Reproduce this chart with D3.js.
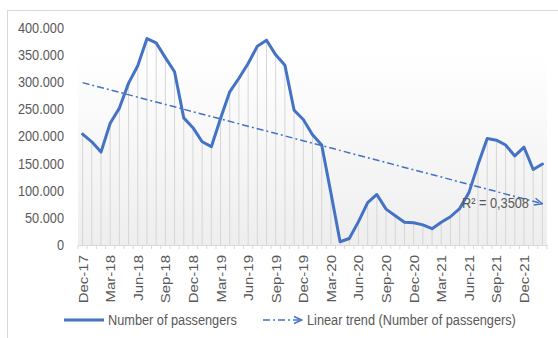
<!DOCTYPE html>
<html><head><meta charset="utf-8">
<script src="https://cdn.jsdelivr.net/npm/d3@7"></script>
<style>
html,body{margin:0;padding:0;background:#fff;}
svg{display:block;font-family:"Liberation Sans",Arial,sans-serif;}
</style></head>
<body>
<svg id="chart" width="558" height="338"></svg>
<script>
const months = ["Dec-17","Jan-18","Feb-18","Mar-18","Apr-18","May-18","Jun-18","Jul-18","Aug-18","Sep-18","Oct-18","Nov-18",
"Dec-18","Jan-19","Feb-19","Mar-19","Apr-19","May-19","Jun-19","Jul-19","Aug-19","Sep-19","Oct-19","Nov-19",
"Dec-19","Jan-20","Feb-20","Mar-20","Apr-20","May-20","Jun-20","Jul-20","Aug-20","Sep-20","Oct-20","Nov-20",
"Dec-20","Jan-21","Feb-21","Mar-21","Apr-21","May-21","Jun-21","Jul-21","Aug-21","Sep-21","Oct-21","Nov-21",
"Dec-21","Jan-22","Feb-22"];
const passengers = [204000,190000,171000,224000,252000,298000,330000,380000,372000,345000,319000,234000,
216000,190000,181000,233000,282000,307000,334000,366000,377000,350000,331000,248000,
231000,203000,184000,96000,6000,12000,43000,78000,93000,66000,54000,42000,
41000,37000,30000,42000,52000,67000,96000,148000,196000,193000,184000,164000,
180000,139000,149000];
const yTicks = [0,50000,100000,150000,200000,250000,300000,350000,400000];
const seriesName = "Number of passengers";
const trendName = "Linear trend (Number of passengers)";
const r2Label = "R² = 0,3508";

(function(){
const svg = d3.select("#chart");
const W = 558, H = 338;
const pL = 78, pR = 547, pT = 27.7, pB = 245;
const SX = 0.85, FS = 15, txtCol = "#595959";

svg.append("rect").attr("x",7.5).attr("y",10.5).attr("width",W).attr("height",H)
  .attr("fill","none").attr("stroke","#d9d9d9").attr("stroke-width",1);

const defs = svg.append("defs");
const grad = defs.append("linearGradient").attr("id","pg").attr("x1",0).attr("y1",0).attr("x2",0).attr("y2",1);
grad.append("stop").attr("offset","0%").attr("stop-color","#ffffff");
grad.append("stop").attr("offset","100%").attr("stop-color","#eeeeee");
const mk = defs.append("marker").attr("id","arr").attr("viewBox","0 0 10 10").attr("refX",9).attr("refY",5)
  .attr("markerWidth",10).attr("markerHeight",10).attr("orient","auto").attr("markerUnits","userSpaceOnUse");
mk.append("path").attr("d","M1,1.5 L9,5 L1,8.5").attr("fill","none").attr("stroke","#4472C4").attr("stroke-width",1.4);

const x = d3.scaleBand().domain(months).range([pL,pR]).paddingInner(0).paddingOuter(0);
const cx = d => x(d) + x.bandwidth()/2;
const y = d3.scaleLinear().domain([0,400000]).range([pB,pT]);

svg.append("rect").attr("x",pL).attr("y",53).attr("width",pR-pL).attr("height",pB-53).attr("fill","url(#pg)");

const data = months.map((m,i)=>({m, v:passengers[i], i}));

svg.append("g").selectAll("line").data(data).join("line")
  .attr("x1",d=>cx(d.m)).attr("x2",d=>cx(d.m)).attr("y1",d=>y(d.v)).attr("y2",pB)
  .attr("stroke","#d6d6d6").attr("stroke-width",1);

const xa = svg.append("g").attr("transform",`translate(0,${pB})`)
  .call(d3.axisBottom(x).tickSize(0).tickFormat(""));
xa.select(".domain").attr("stroke","#d9d9d9");
svg.append("g").selectAll("line").data(d3.range(months.length+1)).join("line")
  .attr("x1",i=>pL+i*x.step()).attr("x2",i=>pL+i*x.step()).attr("y1",pB).attr("y2",pB+4)
  .attr("stroke","#d9d9d9");
svg.append("g").selectAll("text").data(data.filter(d=>d.i%3===0)).join("text")
  .attr("transform",d=>`translate(${cx(d.m)+5},${pB+10}) scale(${SX},1) rotate(-90)`)
  .attr("text-anchor","end").attr("font-size",FS).attr("fill",txtCol).text(d=>d.m);

const loc = d3.formatLocale({decimal:",",thousands:".",grouping:[3],currency:["",""]});
const fmt = loc.format(",");
svg.append("g").selectAll("text").data(yTicks).join("text")
  .attr("transform",d=>`translate(64,${y(d)+5}) scale(${SX},1)`)
  .attr("text-anchor","end").attr("font-size",FS).attr("fill",txtCol).text(d=>fmt(d));

const n = data.length;
const mx = d3.mean(data,d=>d.i), my = d3.mean(data,d=>d.v);
const b = d3.sum(data,d=>(d.i-mx)*(d.v-my))/d3.sum(data,d=>(d.i-mx)**2);
const a = my - b*mx;
const tline = d3.line().x(d=>cx(d.m)).y(d=>y(a+b*d.i));
svg.append("path").datum([data[0],data[n-1]]).attr("d",tline)
  .attr("fill","none").attr("stroke","#4472C4").attr("stroke-width",1.5)
  .attr("stroke-dasharray","7,3,2,3").attr("marker-end","url(#arr)");

const line = d3.line().x(d=>cx(d.m)).y(d=>y(d.v));
svg.append("path").datum(data).attr("d",line).attr("fill","none")
  .attr("stroke","#4472C4").attr("stroke-width",3).attr("stroke-linejoin","round").attr("stroke-linecap","round");

svg.append("text").attr("transform",`translate(462,208) scale(${SX},1)`)
  .attr("font-size",FS).attr("fill",txtCol).text(r2Label);

const ly = 320;
svg.append("line").attr("x1",64).attr("x2",104).attr("y1",ly).attr("y2",ly).attr("stroke","#4472C4").attr("stroke-width",3);
svg.append("text").attr("transform",`translate(108,${ly+5}) scale(${SX},1)`).attr("font-size",FS).attr("fill",txtCol).text(seriesName);
svg.append("line").attr("x1",263).attr("x2",302).attr("y1",ly).attr("y2",ly).attr("stroke","#4472C4").attr("stroke-width",1.5)
  .attr("stroke-dasharray","7,3,2,3").attr("marker-end","url(#arr)");
svg.append("text").attr("transform",`translate(307,${ly+5}) scale(${SX},1)`).attr("font-size",FS).attr("fill",txtCol).text(trendName);
})();
</script>
</body></html>
